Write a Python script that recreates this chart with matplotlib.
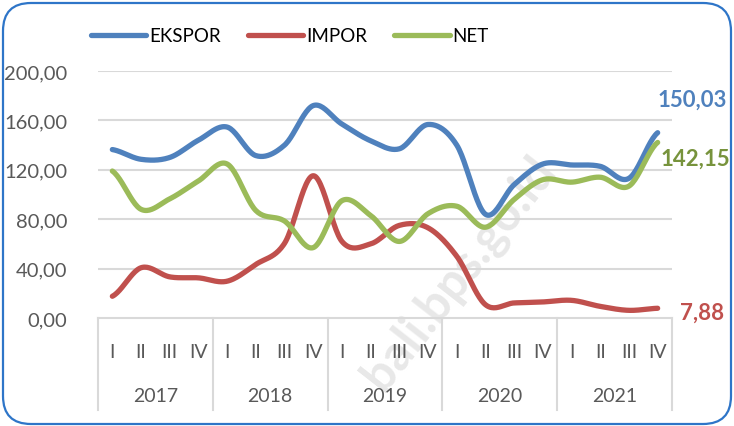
import numpy as np
import matplotlib
matplotlib.use("Agg")
import matplotlib.pyplot as plt
from matplotlib.patches import FancyBboxPatch

plt.rcParams['font.family'] = ['Lato', 'DejaVu Sans']

tahun = ['2017', '2018', '2019', '2020', '2021']
triwulan = ['I', 'II', 'III', 'IV']

ekspor = [136.4, 128.5, 130.0, 144.0, 154.6, 131.5, 140.0, 172.0, 157.0, 143.5,
          137.0, 156.7, 140.0, 84.0, 108.0, 124.7, 123.9, 122.8, 113.1, 150.03]
impor = [17.6, 40.7, 33.3, 32.5, 29.8, 43.4, 60.5, 115.2, 62.0, 60.0,
         75.0, 73.0, 50.0, 10.8, 12.2, 13.0, 14.3, 9.4, 6.2, 7.88]
net = [119.0, 88.0, 96.5, 111.0, 124.7, 87.0, 78.5, 57.0, 95.0, 83.0,
       62.0, 84.5, 90.5, 73.5, 96.0, 112.0, 110.0, 114.0, 106.8, 142.15]

yticks = [0, 40, 80, 120, 160, 200]

BIRU = '#4F81BD'
MERAH = '#C0504D'
HIJAU = '#9BBB59'
ABU = '#595959'


def halus(y, n=24):
    # kurva halus ala excel (catmull-rom)
    y = np.asarray(y, dtype=float)
    p = np.concatenate([[y[0]], y, [y[-1]]])
    xs, ys = [], []
    t = np.linspace(0, 1, n, endpoint=False)
    for i in range(len(y) - 1):
        p0, p1, p2, p3 = p[i], p[i + 1], p[i + 2], p[i + 3]
        c = 0.5 * ((2 * p1) + (-p0 + p2) * t + (2 * p0 - 5 * p1 + 4 * p2 - p3) * t ** 2
                   + (-p0 + 3 * p1 - 3 * p2 + p3) * t ** 3)
        xs.extend(i + t)
        ys.extend(c)
    xs.append(len(y) - 1)
    ys.append(y[-1])
    return np.array(xs), np.array(ys)


fig = plt.figure(figsize=(7.34, 4.27), dpi=100)
ax = fig.add_axes([98 / 734, 1 - 319 / 427, 574 / 734, 247 / 427])

# watermark (di bawah garis data)
ax.text(0.625, 0.36, 'bali.bps.go.id', rotation=52, fontsize=35, fontweight='bold',
        color='#E8E8E8', ha='center', va='center', zorder=0.5,
        transform=fig.transFigure, clip_on=False)

for v in yticks[1:]:
    ax.axhline(v, color='#D9D9D9', lw=1.5, zorder=1)

garis = []
for data, warna, nama in [(ekspor, BIRU, 'EKSPOR'), (impor, MERAH, 'IMPOR'), (net, HIJAU, 'NET')]:
    xs, ys = halus(data)
    l, = ax.plot(xs, ys, color=warna, lw=3.8, solid_capstyle='round', label=nama, zorder=3)
    garis.append(l)

ax.set_xlim(-0.5, len(ekspor) - 0.5)
ax.set_ylim(0, 200)
ax.set_yticks(yticks)
ax.set_yticklabels([f'{v:.2f}'.replace('.', ',') for v in yticks], fontsize=14.5, color=ABU)
ax.tick_params(axis='y', length=0, pad=22)

ax.set_xticks(range(len(ekspor)))
ax.set_xticklabels(triwulan * len(tahun), fontsize=14, color=ABU)
ax.tick_params(axis='x', length=0, pad=18)

for s in ['top', 'right', 'left']:
    ax.spines[s].set_visible(False)
ax.spines['bottom'].set_color('#D9D9D9')
ax.spines['bottom'].set_linewidth(1.5)

# pemisah tahun
for k in range(len(tahun) + 1):
    ax.plot([k * 4 - 0.5, k * 4 - 0.5], [0, -0.372], color='#D9D9D9', lw=1.5,
            transform=ax.get_xaxis_transform(), clip_on=False)
for k, th in enumerate(tahun):
    ax.text(k * 4 + 1.5, -0.315, th, transform=ax.get_xaxis_transform(),
            ha='center', va='center', fontsize=14, color=ABU)

# label nilai terakhir
n = len(ekspor) - 1
ax.annotate(f'{ekspor[-1]:.2f}'.replace('.', ','), (n, ekspor[-1]), xytext=(0, 24),
            textcoords='offset points', ha='left', va='center', fontsize=16,
            fontweight='bold', color=BIRU, annotation_clip=False)
ax.annotate(f'{net[-1]:.2f}'.replace('.', ','), (n, net[-1]), xytext=(2, -11),
            textcoords='offset points', ha='left', va='center', fontsize=16,
            fontweight='bold', color='#77933C', annotation_clip=False)
ax.annotate(f'{impor[-1]:.2f}'.replace('.', ','), (n, impor[-1]), xytext=(16, -3),
            textcoords='offset points', ha='left', va='center', fontsize=16,
            fontweight='bold', color=MERAH, annotation_clip=False)

fig.legend(handles=garis, loc='center left', bbox_to_anchor=(91 / 734, 1 - 37 / 427),
           ncol=3, frameon=False, fontsize=13.5, handlelength=2.95, handletextpad=0.15,
           columnspacing=1.45, borderpad=0, borderaxespad=0)

bingkai = FancyBboxPatch((3, 2), 728, 421, boxstyle='round,pad=0,rounding_size=28',
                         transform=None, fill=False, edgecolor='#2E75C8', lw=1.6,
                         zorder=10)
fig.patches.append(bingkai)

fig.savefig('out.png', dpi=100)
